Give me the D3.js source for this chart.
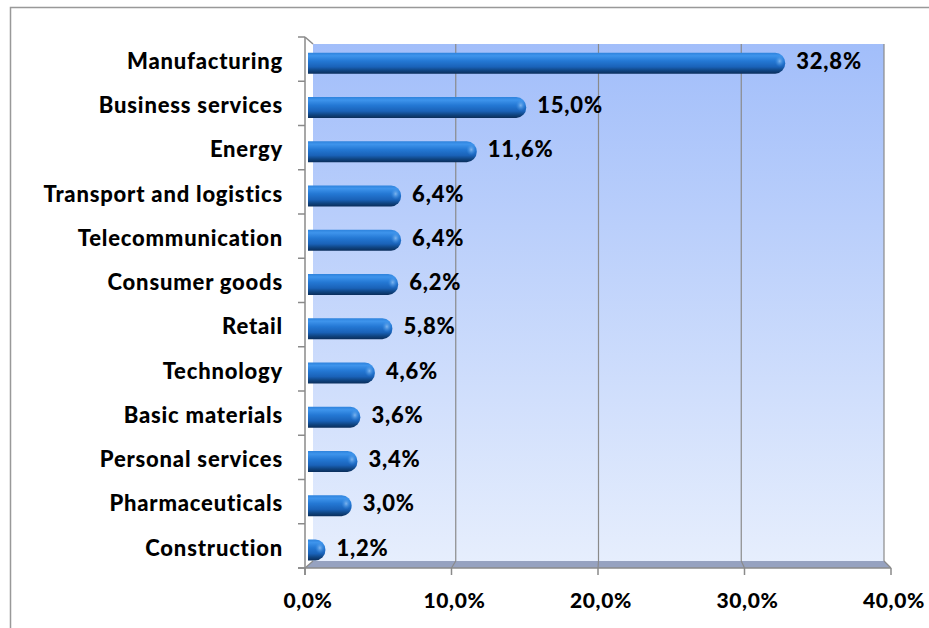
<!DOCTYPE html>
<html>
<head>
<meta charset="utf-8">
<script src="https://cdn.jsdelivr.net/npm/d3@7"></script>
<style>
  body { margin: 0; background: #fff; }
  text { font-family: Lato, "Open Sans", sans-serif; font-weight: 900; fill: #000; letter-spacing: 0.8px; }
</style>
</head>
<body>
<div id="chart"></div>
<script>
const categories = ["Manufacturing", "Business services", "Energy", "Transport and logistics",
  "Telecommunication", "Consumer goods", "Retail", "Technology", "Basic materials",
  "Personal services", "Pharmaceuticals", "Construction"];
const values = [32.8, 15.0, 11.6, 6.4, 6.4, 6.2, 5.8, 4.6, 3.6, 3.4, 3.0, 1.2];
const xTicks = [0, 10, 20, 30, 40];

const width = 929, height = 628;
const locale = d3.formatLocale({ decimal: ",", thousands: ".", grouping: [3], currency: ["", "€"] });
const fmt = d => locale.format(".1f")(d) + "%";

// 3D-ish layout: front plane, back wall, bar plane in between
const xFront = d3.scaleLinear().domain([0, 40]).range([305, 891]);
const xBack = d3.scaleLinear().domain([0, 40]).range([313, 884]);
const xBar = d3.scaleLinear().domain([0, 40]).range([308, 890]);
const y = d3.scaleBand().domain(categories).range([37, 568]);
const wallTop = 44, wallBottom = 561, floorFront = 568;

const svg = d3.select("#chart")
  .append("svg")
  .attr("width", width)
  .attr("height", height);

const defs = svg.append("defs");
const wallGrad = defs.append("linearGradient").attr("id", "wall")
  .attr("x1", 0).attr("y1", 0).attr("x2", 0).attr("y2", 1);
wallGrad.append("stop").attr("offset", "0%").attr("stop-color", "#a2befa");
wallGrad.append("stop").attr("offset", "100%").attr("stop-color", "#e6eefd");

const barGrad = defs.append("linearGradient").attr("id", "bar")
  .attr("x1", 0).attr("y1", 0).attr("x2", 0).attr("y2", 1);
[["0%", "#2d82dc"], ["15%", "#3e94ec"], ["40%", "#2478d4"], ["68%", "#1a62b8"], ["86%", "#0f437f"], ["100%", "#0a2e5c"]]
  .forEach(([o, c]) => barGrad.append("stop").attr("offset", o).attr("stop-color", c));

const capGrad = defs.append("radialGradient").attr("id", "cap");
capGrad.append("stop").attr("offset", "0%").attr("stop-color", "#8fc0f3").attr("stop-opacity", 0.85);
capGrad.append("stop").attr("offset", "100%").attr("stop-color", "#3b90e8").attr("stop-opacity", 0);

// outer border
svg.append("path")
  .attr("d", `M10.5,${height} V7.5 H${width}`)
  .attr("fill", "none").attr("stroke", "#999").attr("stroke-width", 1.5);

// back wall
svg.append("rect")
  .attr("x", xBack(0)).attr("y", wallTop)
  .attr("width", xBack(40) - xBack(0)).attr("height", wallBottom - wallTop)
  .attr("fill", "url(#wall)");

// floor
svg.append("path")
  .attr("d", `M${xBack(0)},${wallBottom} L${xBack(40)},${wallBottom} L${xFront(40)},${floorFront} L${xFront(0)},${floorFront} Z`)
  .attr("fill", "#96a2c0");

// gridlines on wall
svg.append("g").selectAll("line")
  .data(xTicks.slice(1))
  .join("line")
  .attr("x1", d => xBack(d)).attr("x2", d => xBack(d))
  .attr("y1", wallTop).attr("y2", wallBottom)
  .attr("stroke", "#8a8a8a").attr("stroke-width", 1.2);

// floor gridline diagonals
svg.append("g").selectAll("line")
  .data(xTicks)
  .join("line")
  .attr("x1", d => xBack(d)).attr("x2", d => xFront(d))
  .attr("y1", wallBottom).attr("y2", floorFront)
  .attr("stroke", "#8a8a8a").attr("stroke-width", 1.2);

// left axis
const axisColor = "#8a8a8a";
svg.append("line")
  .attr("x1", xFront(0)).attr("x2", xFront(0))
  .attr("y1", 37).attr("y2", floorFront + 7)
  .attr("stroke", axisColor).attr("stroke-width", 1.5);
svg.append("line")
  .attr("x1", xFront(0)).attr("x2", xBack(0))
  .attr("y1", 37).attr("y2", wallTop)
  .attr("stroke", axisColor).attr("stroke-width", 1.5);
svg.append("g").selectAll("line")
  .data(categories.map(c => y(c)).concat([y.range()[1]]))
  .join("line")
  .attr("x1", xFront(0) - 7).attr("x2", xFront(0))
  .attr("y1", d => d).attr("y2", d => d)
  .attr("stroke", axisColor).attr("stroke-width", 1.5);

// bottom axis
svg.append("line")
  .attr("x1", xFront(0) - 7).attr("x2", xFront(40))
  .attr("y1", floorFront).attr("y2", floorFront)
  .attr("stroke", axisColor).attr("stroke-width", 1.5);
svg.append("g").selectAll("line")
  .data(xTicks)
  .join("line")
  .attr("x1", d => xFront(d)).attr("x2", d => xFront(d))
  .attr("y1", floorFront).attr("y2", floorFront + 7)
  .attr("stroke", axisColor).attr("stroke-width", 1.5);

svg.append("g").selectAll("text")
  .data(xTicks)
  .join("text")
  .attr("x", d => xFront(d) + 3)
  .attr("y", 603)
  .attr("text-anchor", "middle")
  .attr("dominant-baseline", "middle")
  .style("font-size", "21px")
  .style("letter-spacing", "0.6px")
  .text(fmt);

// bars
const barH = 21, capR = 10;
const bars = svg.append("g").selectAll("g")
  .data(categories.map((c, i) => ({ c, v: values[i] })))
  .join("g")
  .attr("transform", d => `translate(0,${y(d.c) + y.bandwidth() / 2 + 4})`);

bars.append("path")
  .attr("d", d => {
    const x0 = xBar(0), x1 = Math.max(xBar(d.v), x0 + capR);
    return `M${x0},${-barH / 2} H${x1 - capR} A${capR},${barH / 2} 0 0 1 ${x1 - capR},${barH / 2} H${x0} Z`;
  })
  .attr("fill", "url(#bar)");

bars.append("ellipse")
  .attr("cx", d => Math.max(xBar(d.v), xBar(0) + capR) - capR * 0.55)
  .attr("cy", -2)
  .attr("rx", 5).attr("ry", 6)
  .attr("fill", "url(#cap)");

bars.append("text")
  .attr("x", d => xBar(d.v) + 11)
  .attr("y", 0)
  .attr("dominant-baseline", "middle")
  .style("font-size", "22px")
  .text(d => fmt(d.v));

// category labels
svg.append("g").selectAll("text")
  .data(categories)
  .join("text")
  .attr("x", 283)
  .attr("y", d => y(d) + y.bandwidth() / 2 + 4)
  .attr("text-anchor", "end")
  .attr("dominant-baseline", "middle")
  .style("font-size", "22px")
  .text(d => d);
</script>
</body>
</html>
